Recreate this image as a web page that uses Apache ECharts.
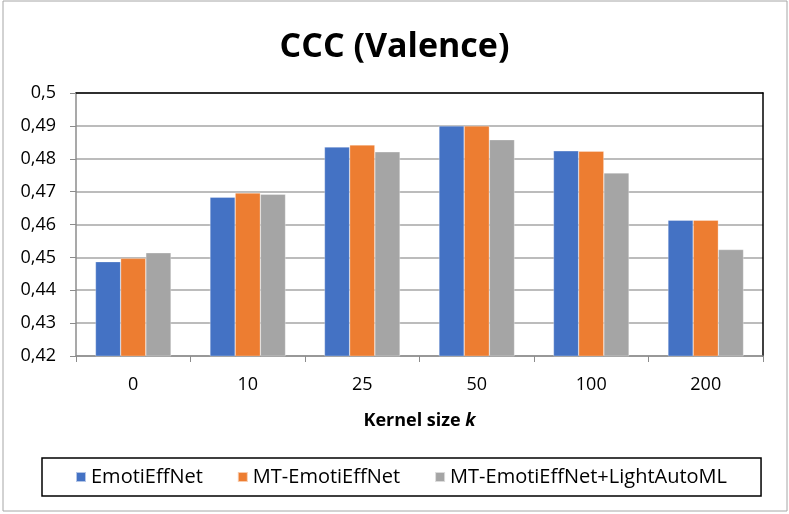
<!DOCTYPE html>
<html><head><meta charset="utf-8">
<script src="https://cdn.jsdelivr.net/npm/echarts@6/dist/echarts.min.js"></script>
<style>html,body{margin:0;padding:0;background:#fff}#c{width:789px;height:514px}</style>
</head><body><div id="c"></div>
<script>
const categories = ['0', '10', '25', '50', '100', '200'];
const seriesNames = ['EmotiEffNet', 'MT-EmotiEffNet', 'MT-EmotiEffNet+LightAutoML'];
const emotiEffNet = [0.4487, 0.4683, 0.4836, 0.4900, 0.4824, 0.4613];
const mtEmotiEffNet = [0.4497, 0.4696, 0.4842, 0.4900, 0.4823, 0.4613];
const mtLightAutoML = [0.4514, 0.4692, 0.4821, 0.4858, 0.4757, 0.4524];
const yTicks = { min: 0.42, max: 0.5, interval: 0.01 };
const colors = ['#4472C4', '#ED7D31', '#A5A5A5'];

const font = 'Open Sans';
const chart = echarts.init(document.getElementById('c'));
const values = [emotiEffNet, mtEmotiEffNet, mtLightAutoML];
chart.setOption({
  animation: false,
  color: colors,
  title: {
    text: 'CCC (Valence)', left: 'center', top: 25,
    textStyle: { fontFamily: font, fontWeight: 'bold', fontSize: 34, color: '#000' }
  },
  graphic: [{
    type: 'rect', silent: true, z: -1,
    shape: { x: 3, y: 1, width: 784, height: 510 },
    style: { fill: 'none', stroke: '#a6a6a6', lineWidth: 1 }
  }],
  legend: {
    left: 42, top: 458,
    padding: [9, 34, 9, 33],
    itemGap: 34,
    itemWidth: 10, itemHeight: 10,
    borderColor: '#000', borderWidth: 1.5,
    icon: 'rect',
    textStyle: { fontFamily: font, fontSize: 20, color: '#000' },
    data: seriesNames
  },
  grid: { left: 76, right: 26, top: 93, bottom: 158 },
  xAxis: [{
    type: 'category', data: categories,
    axisLine: { lineStyle: { color: '#8c8c8c', width: 1.5 } },
    axisTick: { show: true, length: 6, lineStyle: { color: '#8c8c8c' } },
    axisLabel: { fontFamily: font, fontSize: 18, color: '#000', margin: 20 },
    name: '{a|Kernel size }{b|k}', nameLocation: 'middle', nameGap: 56,
    nameTextStyle: { rich: {
      a: { fontFamily: font, fontSize: 18, fontWeight: 'bold', color: '#000' },
      b: { fontFamily: font, fontSize: 18, fontWeight: 'bold', fontStyle: 'italic', color: '#000' }
    } }
  }, {
    type: 'category', data: categories, position: 'top',
    axisLine: { lineStyle: { color: '#000', width: 1.5 } },
    axisTick: { show: false }, axisLabel: { show: false }
  }],
  yAxis: [{
    type: 'value', min: yTicks.min, max: yTicks.max, interval: yTicks.interval,
    axisLine: { show: true, lineStyle: { color: '#8c8c8c', width: 1.5 } },
    axisTick: { show: true, length: 6, lineStyle: { color: '#8c8c8c' } },
    splitLine: { lineStyle: { color: '#a6a6a6', width: 1.5 } },
    axisLabel: { fontFamily: font, fontSize: 18, color: '#000', margin: 20,
      formatter: v => String(Math.round(v * 100) / 100).replace('.', ',') }
  }, {
    type: 'value', min: yTicks.min, max: yTicks.max, interval: yTicks.interval, position: 'right',
    axisLine: { show: true, lineStyle: { color: '#000', width: 1.5 } },
    axisTick: { show: false }, axisLabel: { show: false }, splitLine: { show: false }
  }],
  series: seriesNames.map((n, i) => ({
    name: n, type: 'bar', data: values[i],
    barGap: '0%', barCategoryGap: '34%',
    itemStyle: { borderColor: 'rgba(255,255,255,0.6)', borderWidth: 0.5 }
  }))
});
</script></body></html>
